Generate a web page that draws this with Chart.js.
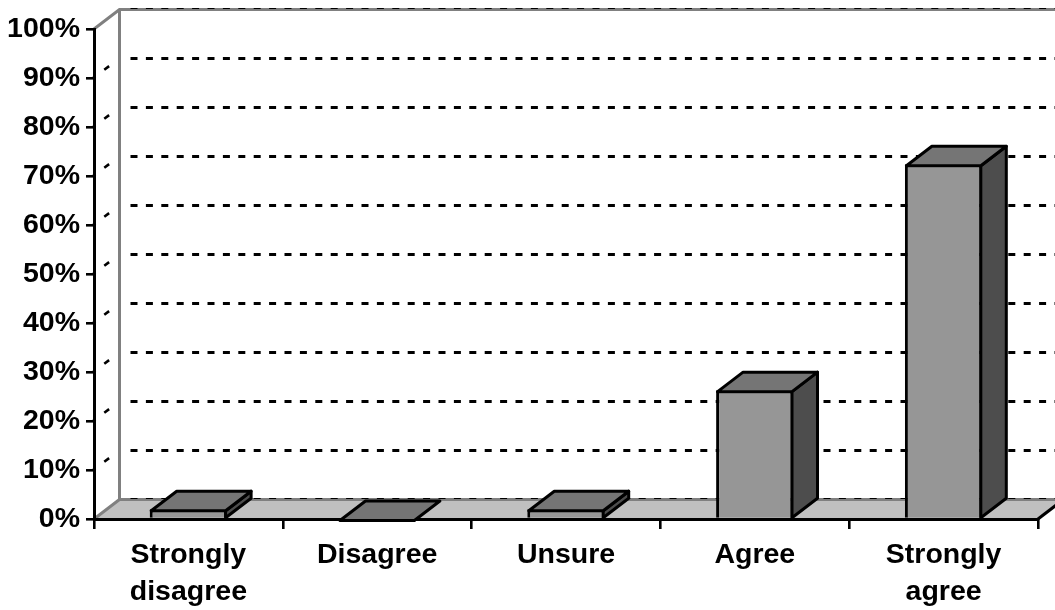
<!DOCTYPE html>
<html>
<head>
<meta charset="utf-8">
<title>Responses</title>
<style>
  html, body { margin:0; padding:0; background:#fff; }
  canvas { display:block; }
</style>
<script src="https://cdn.jsdelivr.net/npm/chart.js@4"></script>
</head>
<body>
<canvas id="chart" width="1055" height="610"></canvas>
<script>
const categories = [['Strongly','disagree'], 'Disagree', 'Unsure', 'Agree', ['Strongly','agree']];
const responses = [2, 0, 2, 26.3, 72.4];
const tickLabels = ['0%','10%','20%','30%','40%','50%','60%','70%','80%','90%','100%'];

// depth of the fake 3d box
const depthX = 25.5, depthY = -19.5;
const edge = 3;

function poly(ctx, pts, fill, stroke, lw){
  ctx.beginPath();
  pts.forEach((p,i)=> i ? ctx.lineTo(p[0],p[1]) : ctx.moveTo(p[0],p[1]));
  ctx.closePath();
  if(fill){ ctx.fillStyle = fill; ctx.fill(); }
  if(stroke){ ctx.strokeStyle = stroke; ctx.lineWidth = lw; ctx.lineJoin = 'round'; ctx.stroke(); }
}

const box3d = {
  id:'box3d',
  beforeDraw(chart){
    const ctx = chart.ctx, y = chart.scales.y, a = chart.chartArea;
    const top = y.getPixelForValue(100), bottom = y.getPixelForValue(0);
    const backL = a.left + depthX, backR = a.right + depthX;
    ctx.save();
    ctx.fillStyle = '#fff';
    ctx.fillRect(0,0,chart.width,chart.height);

    // floor
    poly(ctx, [[a.left,bottom],[backL,bottom+depthY],[backR,bottom+depthY],[a.right,bottom]], '#c0c0c0');

    // gridlines: a thin stub on the side wall, then the back wall
    ctx.strokeStyle = '#000';
    tickLabels.forEach((t,i)=>{
      if(i===0 || i===tickLabels.length-1) return;
      const py = y.getPixelForValue(i*10);
      ctx.lineWidth = 2.6;
      ctx.setLineDash([3,11,6,100]);
      ctx.beginPath();
      ctx.moveTo(a.left-1,py);
      ctx.lineTo(backL,py+depthY);
      ctx.stroke();
      ctx.lineWidth = 3;
      ctx.setLineDash([7,8.4]);
      ctx.beginPath();
      ctx.moveTo(backL+11,py+depthY);
      ctx.lineTo(backR,py+depthY);
      ctx.stroke();
    });
    ctx.setLineDash([]);

    // wall edges
    ctx.strokeStyle = '#808080';
    ctx.lineWidth = edge;
    ctx.beginPath();
    ctx.moveTo(a.left,top);
    ctx.lineTo(backL,top+depthY);
    ctx.lineTo(backR,top+depthY);
    ctx.moveTo(backL,top+depthY);
    ctx.lineTo(backL,bottom+depthY);
    ctx.lineTo(backR,bottom+depthY);
    ctx.moveTo(backL,bottom+depthY);
    ctx.lineTo(a.left,bottom);
    ctx.stroke();

    // top and floor rows only show thin dashes over the grey
    ctx.strokeStyle = '#000';
    ctx.lineWidth = 1;
    ctx.setLineDash([7,8.4]);
    [top,bottom].forEach(py=>{
      ctx.beginPath();
      ctx.moveTo(backL+11,py+depthY-1);
      ctx.lineTo(backR,py+depthY-1);
      ctx.stroke();
    });
    ctx.setLineDash([]);

    // right floor edge
    ctx.strokeStyle = '#000';
    ctx.lineWidth = edge;
    ctx.beginPath();
    ctx.moveTo(a.right,bottom);
    ctx.lineTo(backR,bottom+depthY);
    ctx.stroke();
    ctx.restore();
  },
  afterDatasetsDraw(chart){
    const ctx = chart.ctx, bars = chart.getDatasetMeta(0).data;
    ctx.save();
    bars.forEach(b=>{
      const p = b.getProps(['x','y','base','width'], true);
      const l = p.x - p.width/2 + 1.5, r = p.x + p.width/2 - 1.5, t = p.y + 1.5, base = p.base;
      // side face, skipped when the bar has no height
      if(base - t > 1){
        poly(ctx, [[r,t],[r+depthX,t+depthY],[r+depthX,base+depthY],[r,base]], '#4d4d4d', '#000', edge);
      }
      poly(ctx, [[l,t],[l+depthX,t+depthY],[r+depthX,t+depthY],[r,t]], '#757575', '#000', edge);
    });
    ctx.restore();
  }
};

new Chart(document.getElementById('chart'), {
  type:'bar',
  data:{
    labels:categories,
    datasets:[{
      data:responses,
      backgroundColor:'#969696',
      borderColor:'#000',
      borderWidth:edge,
      borderSkipped:'bottom',
      categoryPercentage:1,
      barPercentage:0.41
    }]
  },
  options:{
    responsive:false,
    animation:false,
    layout:{ padding:{ top:29, right:17, left:0, bottom:0 } },
    plugins:{ legend:{ display:false }, tooltip:{ enabled:false } },
    scales:{
      x:{
        z:1,
        afterFit(s){ s.height = 91; },
        grid:{ drawOnChartArea:false, drawTicks:true, tickLength:10, color:'#000', lineWidth:2.6 },
        border:{ display:true, color:'#000', width:edge },
        ticks:{ color:'#000', maxRotation:0, autoSkip:false, padding:7, font:{ family:'"Liberation Sans"', size:28.5, weight:'bold', lineHeight:1.32 } }
      },
      y:{
        min:0, max:100,
        afterFit(s){ s.width = 94; },
        grid:{ drawOnChartArea:false, drawTicks:true, tickLength:8, color:'#000', lineWidth:2.6 },
        border:{ display:true, color:'#000', width:edge },
        ticks:{ stepSize:10, color:'#000', padding:6, font:{ family:'"Liberation Sans"', size:28.5, weight:'bold' },
          callback:(v)=>tickLabels[v/10] }
      }
    }
  },
  plugins:[box3d]
});
</script>
</body>
</html>
